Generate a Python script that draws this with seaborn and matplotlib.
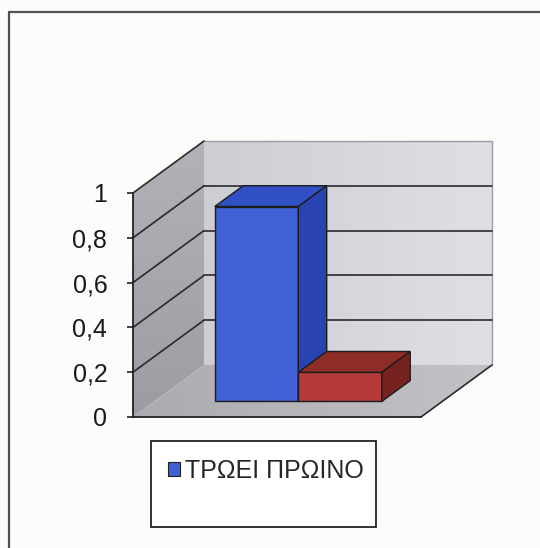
import matplotlib
matplotlib.use("Agg")
import matplotlib.pyplot as plt
from matplotlib.patches import Polygon, Rectangle, Patch
from matplotlib.lines import Line2D
from matplotlib.transforms import Affine2D
from matplotlib.colors import to_rgb
import numpy as np
import pandas as pd
import seaborn as sns

# --- data -------------------------------------------------------------
category = ["ΠΡΩΙΝΟ"]
series = ["ΤΡΩΕΙ ΠΡΩΙΝΟ", "ΔΕΝ ΤΡΩΕΙ ΠΡΩΙΝΟ"]
values = [0.87, 0.13]
yticks = [0, 0.2, 0.4, 0.6, 0.8, 1.0]
ytick_labels = ["0", "0,2", "0,4", "0,6", "0,8", "1"]
legend_labels = ["ΤΡΩΕΙ ΠΡΩΙΝΟ"]

# --- colours ------------------------------------------------------------
front_colors = ["#4060d6", "#b43b39"]
top_colors = ["#3050c4", "#8e2c28"]
side_colors = ["#2944b0", "#76231f"]
grid_col = "#2a2a2a"

sns.set_theme(style="white")
plt.rcParams["font.family"] = ["Liberation Sans", "DejaVu Sans"]

W, H = 540, 548
fig = plt.figure(figsize=(W / 100, H / 100), dpi=100, facecolor="#fcfdfb")

# front plane of the 3-D box: value 0..1, one category spanning -0.5..0.5
ax = fig.add_axes([133 / W, (H - 417) / H, (421 - 133) / W, (417 - 193) / H])
ax.set_facecolor("none")

df = pd.DataFrame({
    "κατηγορία": category * len(series),
    "ομάδα": series,
    "ποσοστό": values,
})
sns.barplot(data=df, x="κατηγορία", y="ποσοστό", hue="ομάδα",
            hue_order=series, palette=front_colors, saturation=1,
            width=0.58, dodge=True, legend=False, errorbar=None, ax=ax,
            edgecolor="#1c1c1c", linewidth=1.0)
bars = sorted(list(ax.patches), key=lambda p: p.get_x())

# oblique depth vector (full floor depth) in data units
DX, DY = 71 / 288, 52 / 224
d0, d1 = 0.30, 0.70   # depth slot occupied by the columns
x0, x1 = -0.5, 0.5


def shaded_poly(pts, c_a, c_b, z, direction="v"):
    """Polygon filled with a linear gradient (c_a -> c_b)."""
    p = Polygon(pts, closed=True, facecolor="none", edgecolor="none",
                zorder=z, clip_on=False)
    ax.add_patch(p)
    xs = [q[0] for q in pts]
    ys = [q[1] for q in pts]
    t = np.linspace(0, 1, 64)
    a, b = np.array(to_rgb(c_a)), np.array(to_rgb(c_b))
    grad = a[None, :] * (1 - t[:, None]) + b[None, :] * t[:, None]
    if direction == "v":
        img = grad[:, None, :]          # bottom -> top
    else:
        img = grad[None, :, :]          # left -> right
    im = ax.imshow(img, extent=(min(xs), max(xs), min(ys), max(ys)),
                   origin="lower", aspect="auto", interpolation="bilinear",
                   zorder=z)
    im.set_clip_box(fig.bbox)
    im.set_clip_path(p)
    return p


# walls and floor
shaded_poly([(x0 + DX, DY), (x1 + DX, DY), (x1 + DX, 1 + DY), (x0 + DX, 1 + DY)],
            "#cdcdd4", "#dfdfe5", 0.5, direction="h")
shaded_poly([(x0, 0), (x0 + DX, DY), (x0 + DX, 1 + DY), (x0, 1)],
            "#9c9ca2", "#b2b2b8", 0.6, direction="v")
shaded_poly([(x0, 0), (x1, 0), (x1 + DX, DY), (x0 + DX, DY)],
            "#acacb0", "#c2c2c6", 0.7, direction="h")

# back-wall outline (light) and floor right edge
ax.plot([x0 + DX, x1 + DX, x1 + DX], [1 + DY, 1 + DY, DY], color="#9a9aa0",
        lw=1.0, zorder=0.8, clip_on=False)
ax.plot([x1, x1 + DX], [0, DY], color=grid_col, lw=1.2, zorder=0.9, clip_on=False)

# gridlines on left and back walls
for v in yticks[1:]:
    ax.plot([x0, x0 + DX], [v, v + DY], color=grid_col, lw=1.2, zorder=0.9,
            clip_on=False)
    if v < 1:
        ax.plot([x0 + DX, x1 + DX], [v + DY, v + DY], color=grid_col, lw=1.2,
                zorder=0.9, clip_on=False)

# columns: seaborn front faces pushed back into the depth slot + top/side faces
shift = Affine2D().translate(d0 * DX, d0 * DY) + ax.transData
dd_x, dd_y = (d1 - d0) * DX, (d1 - d0) * DY
for i, bar in enumerate(bars):
    bx, bw, bh = bar.get_x(), bar.get_width(), bar.get_height()
    bar.set_transform(shift)
    bar.set_zorder(3 + i)
    bar.set_clip_on(False)
    for pts, col in (
        ([(bx, bh), (bx + bw, bh), (bx + bw + dd_x, bh + dd_y), (bx + dd_x, bh + dd_y)],
         top_colors[i]),
        ([(bx + bw, 0), (bx + bw + dd_x, dd_y), (bx + bw + dd_x, bh + dd_y), (bx + bw, bh)],
         side_colors[i]),
    ):
        p = Polygon(pts, closed=True, facecolor=col, edgecolor="#1c1c1c", lw=1.0,
                    zorder=3 + i, clip_on=False, transform=shift)
        ax.add_patch(p)

ax.set_xlim(-0.5, 0.5)
ax.set_ylim(0, 1)

# axes styling
for s in ("top", "right"):
    ax.spines[s].set_visible(False)
for s in ("left", "bottom"):
    ax.spines[s].set_color("#222222")
    ax.spines[s].set_linewidth(1.3)
ax.set_xticks([])
ax.set_yticks(yticks, ytick_labels)
ax.tick_params(axis="y", left=True, length=4.5, width=1.2, color="#222222",
               pad=14, labelsize=18, labelcolor="#1a1a1a")
ax.set_xlabel("")
ax.set_ylabel("")

# outer chart frame
fig.add_artist(Line2D([9 / W, 1.02], [1 - 12 / H, 1 - 12 / H],
                      transform=fig.transFigure, color="#505050", lw=1.6))
fig.add_artist(Line2D([9 / W, 9 / W], [1 - 12 / H, -0.02],
                      transform=fig.transFigure, color="#505050", lw=1.6))

# legend box
fig.add_artist(Rectangle((151 / W, (H - 527) / H), (376 - 151) / W, (527 - 441) / H,
                         transform=fig.transFigure, facecolor="white",
                         edgecolor="#222222", lw=1.3, zorder=1))
leg = fig.legend(handles=[Patch(facecolor=front_colors[0], edgecolor="#222222", lw=0.8)],
                 labels=legend_labels, loc="center left",
                 bbox_to_anchor=(168 / W, 1 - 471 / H), frameon=False,
                 handlelength=0.48, handleheight=0.48, handletextpad=0.2,
                 fontsize=18, borderaxespad=0, borderpad=0)
leg.set_zorder(2)

fig.savefig("out.png", dpi=100, facecolor=fig.get_facecolor())
